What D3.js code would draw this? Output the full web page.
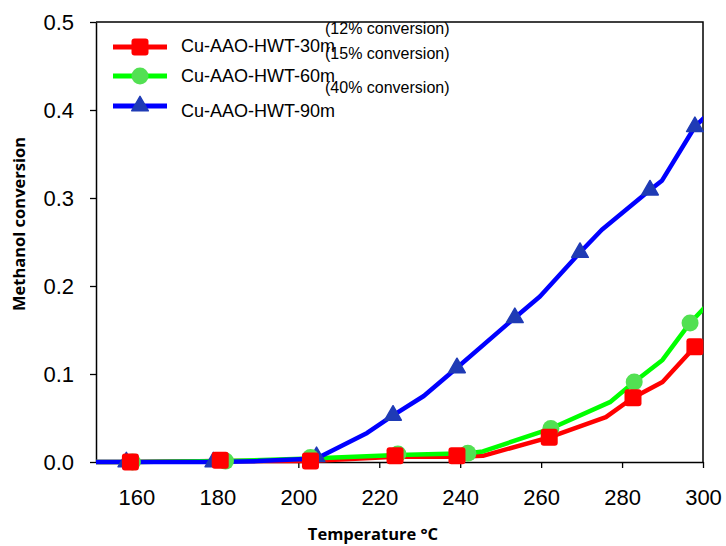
<!DOCTYPE html>
<html><head><meta charset="utf-8">
<script src="https://cdn.jsdelivr.net/npm/d3@7"></script>
<style>body{margin:0;background:#fff}svg{display:block}</style>
</head><body>
<svg id="c" width="726" height="546"></svg>
<script>
// ---- data ----
const xTicks = [160, 180, 200, 220, 240, 260, 280, 300];
const yTicks = [0, 0.1, 0.2, 0.3, 0.4, 0.5];
const seriesNames = ["Cu-AAO-HWT-30m", "Cu-AAO-HWT-60m", "Cu-AAO-HWT-90m"];
const annotations = ["(12% conversion)", "(15% conversion)", "(40% conversion)"];

// line vertices [temperature, conversion]
const line30 = [[150,0],[158.5,0],[180.7,0.001],[203,0.001],[223.9,0.006],[239.2,0.006],[245.6,0.007],[262,0.028],[276,0.051],[282.7,0.073],[290,0.091],[298,0.131],[300.5,0.134]];
const line60 = [[150,0],[159,0],[182,0.001],[203,0.004],[224.6,0.008],[241.9,0.010],[245.6,0.012],[262.4,0.038],[277,0.068],[283,0.091],[290,0.116],[296.8,0.158],[300.5,0.176]];
const line90 = [[150,0],[157.5,0],[179,0],[190,0.001],[204.5,0.004],[217,0.033],[223.4,0.053],[231,0.075],[239.2,0.107],[253.5,0.164],[259.7,0.188],[269.6,0.238],[275,0.264],[286.9,0.309],[289.9,0.32],[298,0.381],[300.5,0.392]];
// marker points
const mark30 = [[158.5,0],[180.7,0.002],[203,0.001],[223.9,0.007],[239.2,0.007],[262,0.028],[282.7,0.073],[298,0.131]];
const mark60 = [[159,0],[182,0.001],[203,0.005],[224.6,0.009],[241.9,0.010],[262.4,0.038],[283,0.091],[296.8,0.158]];
const mark90 = [[157.5,0],[179,0],[204.5,0.006],[223.4,0.053],[239.2,0.107],[253.5,0.164],[269.6,0.238],[286.9,0.309],[298,0.381]];

// ---- layout ----
const L = 96, R = 703, T = 22, B = 462;
const svg = d3.select("#c");
const x = d3.scaleLinear().domain([150, 300]).range([L, R]);
const y = d3.scaleLinear().domain([0, 0.5]).range([B, T]);

svg.append("defs").append("clipPath").attr("id","clip")
  .append("rect").attr("x", L).attr("y", T - 10).attr("width", R - L).attr("height", B - T + 20);

// axes
const fontAx = "'Liberation Sans', Arial, sans-serif";
const gx = svg.append("g").attr("transform", `translate(0,${B})`)
  .call(d3.axisBottom(x).tickValues(xTicks).tickSize(6).tickPadding(21).tickSizeOuter(0).tickFormat(d3.format("d")));
const gy = svg.append("g").attr("transform", `translate(${L},0)`)
  .call(d3.axisLeft(y).tickValues(yTicks).tickSize(6).tickPadding(16).tickSizeOuter(0).tickFormat(d3.format(".1f")));
[gx, gy].forEach(g => {
  g.selectAll("text").attr("font-family", fontAx).attr("font-size", 22).attr("fill", "#000");
  g.selectAll("line").attr("stroke", "#000").attr("stroke-width", 1.3);
  g.select(".domain").attr("stroke", "#000").attr("stroke-width", 1.5);
});
// frame top/right
svg.append("path").attr("d", `M${L},${T}H${R}V${B}`).attr("fill","none").attr("stroke","#000").attr("stroke-width",1.5);

// titles
svg.append("text").attr("transform", `translate(25,${(135+313)/2}) rotate(-90)`)
  .attr("text-anchor","middle").attr("font-family","'Open Sans', sans-serif").attr("font-weight","bold")
  .attr("font-size", 16.5).text("Methanol conversion");
svg.append("text").attr("x", 373).attr("y", 540)
  .attr("text-anchor","middle").attr("font-family","'Open Sans', sans-serif").attr("font-weight","bold")
  .attr("font-size", 16.5).text("Temperature °C");

// lines
const lineGen = d3.line().x(d => x(d[0])).y(d => y(d[1]));
const plot = svg.append("g").attr("clip-path","url(#clip)");
const lineCols = ["#ff0000", "#00ff00", "#0000ff"];
const markCols = ["#ff0000", "#52e052", "#1f3bb5"];
[line30, line60, line90].forEach((ln, i) => {
  plot.append("path").datum(ln).attr("d", lineGen).attr("fill","none")
    .attr("stroke", lineCols[i]).attr("stroke-width", 4.5).attr("stroke-linejoin","round");
});

function drawMarker(g, kind, cx, cy, col) {
  if (kind === 0) {
    g.append("rect").attr("x", cx - 8.5).attr("y", cy - 8.5).attr("width", 17).attr("height", 17)
      .attr("rx", 3).attr("fill", col);
  } else if (kind === 1) {
    g.append("circle").attr("cx", cx).attr("cy", cy).attr("r", 8.5).attr("fill", col);
  } else {
    g.append("path").attr("transform", `translate(${cx},${cy})`)
      .attr("d", d3.symbol().type(d3.symbolTriangle).size(120)()).attr("fill", col)
      .attr("stroke", col).attr("stroke-width", 1.5).attr("stroke-linejoin","round");
  }
}
const marks = [mark30, mark60, mark90];
[2, 1, 0].forEach(i => {
  marks[i].forEach(d => drawMarker(svg, i, x(d[0]), y(d[1]), markCols[i]));
});

// legend
const legY = [47, 76, 106];
const legTextY = [52, 82, 117];
seriesNames.forEach((name, i) => {
  svg.append("line").attr("x1", 113).attr("x2", 167).attr("y1", legY[i]).attr("y2", legY[i])
    .attr("stroke", lineCols[i]).attr("stroke-width", 5);
  drawMarker(svg, i, 140, legY[i], markCols[i]);
  svg.append("text").attr("x", 181).attr("y", legTextY[i]).attr("font-family", fontAx)
    .attr("font-size", 18).text(name);
});
const annY = [34, 59, 93];
annotations.forEach((t, i) => {
  svg.append("text").attr("x", 325).attr("y", annY[i]).attr("font-family", fontAx)
    .attr("font-size", 16).text(t);
});
</script>
</body></html>
